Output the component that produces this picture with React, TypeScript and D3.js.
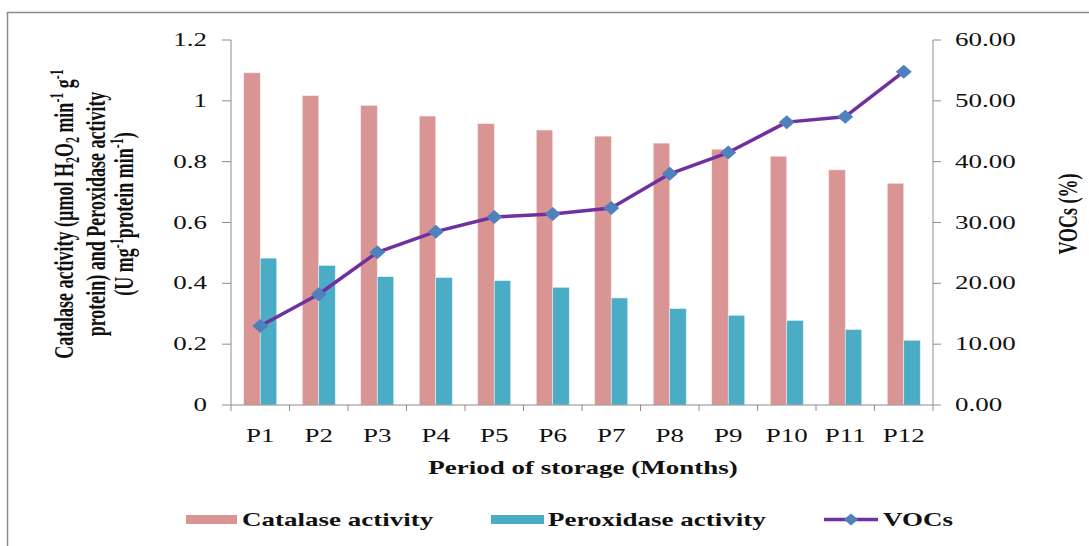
import React from "react";
import * as d3 from "d3";

const categories = ["P1", "P2", "P3", "P4", "P5", "P6", "P7", "P8", "P9", "P10", "P11", "P12"];
const catalase = [1.092, 1.017, 0.985, 0.95, 0.925, 0.904, 0.884, 0.861, 0.841, 0.818, 0.773, 0.729];
const peroxidase = [0.483, 0.459, 0.422, 0.419, 0.409, 0.387, 0.352, 0.317, 0.295, 0.278, 0.248, 0.213];
const vocs = [13.0, 18.2, 25.1, 28.5, 30.9, 31.4, 32.4, 38.0, 41.5, 46.5, 47.4, 54.8];
const leftTicks = [0, 0.2, 0.4, 0.6, 0.8, 1, 1.2];
const rightTicks = [0, 10, 20, 30, 40, 50, 60];
const seriesNames = ["Catalase activity", "Peroxidase activity"];

const COL_CAT = "#D99594";
const COL_PER = "#4BACC6";
const COL_LINE = "#7030A0";
const COL_MARK = "#4F81BD";
const AXIS = "#8c8c8c";
const FONT = "'Liberation Serif', 'Times New Roman', serif";
const SX = 1.5;

type Seg = { t: string; m?: "sup" | "sub" };

const titleLine1: Seg[] = [
  { t: "Catalase activity (µmol H" },
  { t: "2", m: "sub" },
  { t: "O" },
  { t: "2", m: "sub" },
  { t: " min" },
  { t: "-1", m: "sup" },
  { t: " g" },
  { t: "-1", m: "sup" },
];
const titleLine2: Seg[] = [{ t: "protein) and Peroxidase activity" }];
const titleLine3: Seg[] = [
  { t: "(U mg" },
  { t: "-1", m: "sup" },
  { t: "protein min" },
  { t: "-1", m: "sup" },
  { t: ")" },
];

function renderSegs(segs: Seg[]) {
  let cur = 0;
  return segs.map((s, i) => {
    const target = s.m === "sup" ? -7 : s.m === "sub" ? 4 : 0;
    const dy = target - cur;
    cur = target;
    return (
      <tspan key={i} dy={dy} fontSize={s.m ? 12 : 18}>
        {s.t}
      </tspan>
    );
  });
}

export default function App() {
  const left = 231, right = 933, top = 40, bottom = 405;
  const x0 = d3.scaleBand<string>().domain(categories).range([left, right]).paddingInner(0.436).paddingOuter(0.218);
  const x1 = d3.scaleBand<string>().domain(seriesNames).range([0, x0.bandwidth()]);
  const step = x0.step();
  const yL = d3.scaleLinear().domain([0, 1.2]).range([bottom, top]);
  const yR = d3.scaleLinear().domain([0, 60]).range([bottom, top]);
  const line = d3
    .line<number>()
    .x((_, i) => (x0(categories[i]) as number) + x0.bandwidth() / 2)
    .y((d) => yR(d));
  const fmtL = (v: number) => d3.format("~g")(v);
  const fmtR = d3.format(".2f");

  const diamond = (cx: number, cy: number, w = 8, h = 7) =>
    `M${cx},${cy - h}L${cx + w},${cy}L${cx},${cy + h}L${cx - w},${cy}Z`;

  const boundaries = d3.range(categories.length + 1).map((i) => left + i * step);

  return (
    <svg
      width={1089}
      height={546}
      style={{ position: "absolute", left: 0, top: 0, background: "#fff" }}
      fontFamily={FONT}
    >
      <rect x={0} y={0} width={1089} height={546} fill="#fff" />
      {/* frame */}
      <path d="M7.5,546V12.5H1089" fill="none" stroke={AXIS} strokeWidth={1.5} />

      {/* bars */}
      {categories.map((c, i) => (
        <g key={c}>
          <rect
            x={(x0(c) as number) + (x1(seriesNames[0]) as number)}
            y={yL(catalase[i])}
            width={x1.bandwidth()}
            height={bottom - yL(catalase[i])}
            fill={COL_CAT}
            stroke="#fbe9e9"
            strokeWidth={0.6}
          />
          <rect
            x={(x0(c) as number) + (x1(seriesNames[1]) as number)}
            y={yL(peroxidase[i])}
            width={x1.bandwidth()}
            height={bottom - yL(peroxidase[i])}
            fill={COL_PER}
            stroke="#e3f3f7"
            strokeWidth={0.6}
          />
        </g>
      ))}

      {/* axes */}
      <line x1={left} x2={left} y1={top} y2={bottom} stroke={AXIS} strokeWidth={1} />
      <line x1={right} x2={right} y1={top} y2={bottom} stroke={AXIS} strokeWidth={1} />
      <line x1={left} x2={right} y1={bottom} y2={bottom} stroke={AXIS} strokeWidth={1} />
      {leftTicks.map((t) => (
        <g key={"l" + t}>
          <line x1={left - 9} x2={left} y1={yL(t)} y2={yL(t)} stroke={AXIS} />
          <text transform={`translate(207,${yL(t) + 6}) scale(${SX},1)`} textAnchor="end" fontSize={18} fill="#111">
            {fmtL(t)}
          </text>
        </g>
      ))}
      {rightTicks.map((t) => (
        <g key={"r" + t}>
          <line x1={right} x2={right + 8} y1={yR(t)} y2={yR(t)} stroke={AXIS} />
          <text transform={`translate(955,${yR(t) + 6}) scale(${SX},1)`} textAnchor="start" fontSize={18} fill="#111">
            {fmtR(t)}
          </text>
        </g>
      ))}
      {boundaries.map((b, i) => (
        <line key={"b" + i} x1={b} x2={b} y1={bottom} y2={bottom + 6} stroke={AXIS} />
      ))}
      {categories.map((c) => (
        <text
          key={"t" + c}
          transform={`translate(${(x0(c) as number) + x0.bandwidth() / 2},442) scale(${SX},1)`}
          textAnchor="middle"
          fontSize={18}
          fill="#111"
        >
          {c}
        </text>
      ))}

      {/* VOC line */}
      <path d={line(vocs) as string} fill="none" stroke={COL_LINE} strokeWidth={3.5} strokeLinejoin="round" />
      {vocs.map((v, i) => (
        <path
          key={"d" + i}
          d={diamond((x0(categories[i]) as number) + x0.bandwidth() / 2, yR(v))}
          fill={COL_MARK}
        />
      ))}

      {/* axis titles */}
      <text transform={`translate(583,474) scale(${SX},1)`} textAnchor="middle" fontSize={18} fontWeight="bold" fill="#111">
        Period of storage (Months)
      </text>
      <text transform={`translate(73,214) scale(${SX},1) rotate(-90)`} textAnchor="middle" fontSize={18} fontWeight="bold" fill="#111">
        {renderSegs(titleLine1)}
      </text>
      <text transform={`translate(105,214) scale(${SX},1) rotate(-90)`} textAnchor="middle" fontSize={18} fontWeight="bold" fill="#111">
        {renderSegs(titleLine2)}
      </text>
      <text transform={`translate(133,214) scale(${SX},1) rotate(-90)`} textAnchor="middle" fontSize={18} fontWeight="bold" fill="#111">
        {renderSegs(titleLine3)}
      </text>
      <text transform={`translate(1077,214) scale(${SX},1) rotate(-90)`} textAnchor="middle" fontSize={18} fontWeight="bold" fill="#111">
        VOCs (%)
      </text>

      {/* legend */}
      <rect x={186} y={515} width={51} height={9} fill={COL_CAT} />
      <text transform={`translate(242,526) scale(${SX},1)`} fontSize={18} fontWeight="bold" fill="#111">
        {seriesNames[0]}
      </text>
      <rect x={491} y={515} width={53} height={9} fill={COL_PER} />
      <text transform={`translate(548,526) scale(${SX},1)`} fontSize={18} fontWeight="bold" fill="#111">
        {seriesNames[1]}
      </text>
      <line x1={824} x2={878} y1={519.5} y2={519.5} stroke={COL_LINE} strokeWidth={3.5} />
      <path d={diamond(851, 519.5, 7, 6)} fill={COL_MARK} />
      <text transform={`translate(883,526) scale(${SX},1)`} fontSize={18} fontWeight="bold" fill="#111">
        VOCs
      </text>
    </svg>
  );
}
